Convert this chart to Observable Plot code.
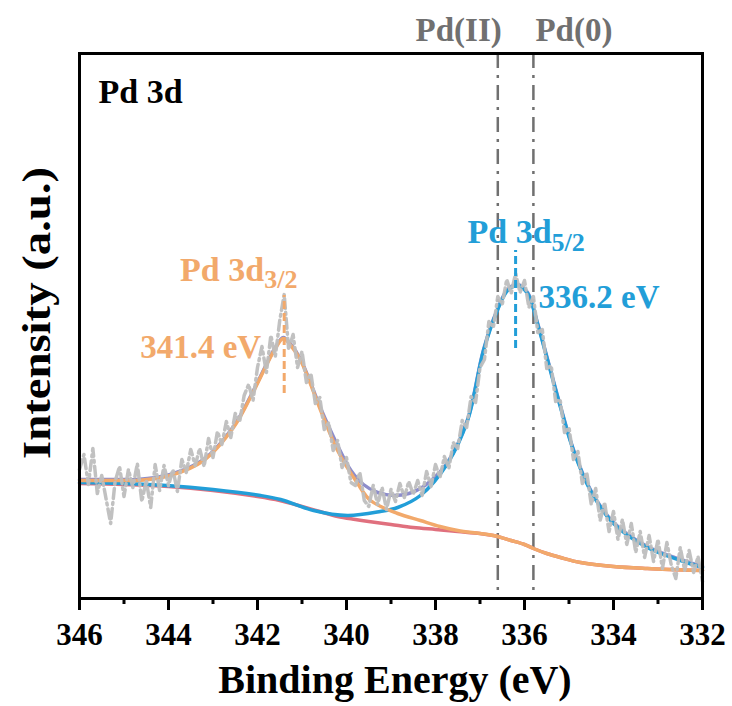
<!DOCTYPE html>
<html>
<head>
<meta charset="utf-8">
<script src="https://cdn.jsdelivr.net/npm/d3@7"></script>
<script src="https://cdn.jsdelivr.net/npm/@observablehq/plot@0.6"></script>
<style>
  html, body { margin: 0; padding: 0; background: #fff; }
</style>
</head>
<body>
<div id="chart"></div>
<script>
// ---------- data (binding energy in eV, intensity in a.u.) ----------
const majorTicks = [346, 344, 342, 340, 338, 336, 334, 332];
const minorTicks = [345, 343, 341, 339, 337, 335, 333];

// raw spectrum, 0.1 eV steps from 346.0 to 332.0 eV
const rawStart = 346.0, rawStep = 0.1;
const rawIntensity = [
  129,144,114,150,105,123,99,75,117,132,
  102,129,111,135,97,118,91,134,108,133,
  113,129,107,139,126,149,133,150,132,160,
  141,167,154,177,161,185,177,203,214,198,
  231,252,226,263,242,278,304,249,264,231,
  247,216,225,195,201,169,176,148,158,131,
  141,116,113,126,98,92,113,94,111,89,
  109,97,115,101,117,104,118,103,127,112,
  134,121,142,130,156,150,178,171,202,196,
  231,239,277,271,302,294,319,305,325,306,
  318,291,302,266,269,230,233,197,199,166,
  171,139,147,115,126,94,110,78,96,67,
  87,59,79,54,75,46,67,41,63,37,
  59,30,56,33,20,51,28,48,26,42,
  17
];
const raw = rawIntensity.map((v, i) => ({e: +(rawStart - i * rawStep).toFixed(1), v}));

const envelopeE = [346,345,344.7,343.96,343.21,342.54,342.16,341.78,341.6,341.42,341.25,341.03,340.58,340.2,339.9,339.62,339.3,338.94,338.6,338.34,338,337.73,337.28,336.92,336.61,336.38,336.16,335.93,335.71,335.48,335.19,334.9,334.52,334,333.24,332.49,332];
const envelopeV = [119,119,119,124,139,172,202,236,251,261,254,239,190,153,128,114,106,103,105,110,122,136,179,249,289,309,314,306,276,239,192,149,109,76,52,39,32];

const pd32E = [346,345,344.7,343.96,343.21,342.54,342.16,341.78,341.6,341.42,341.25,341.03,340.58,340.2,339.75,339.46,338.85,338.34,337.9,337.5,337,336.7,336.3,336,335.8,335.5,335.19,334.74,334,333.24,332];
const pd32V = [118,118,118,123,138,171,201,235,250,260,253,238,188,148,115,98,85,78,72,68,65,63,58,54,50,45,41,36,32,30,28];

const pd52E = [346,345,344.04,343,341.93,341.48,340.74,339.98,339.24,338.85,338.34,337.73,337.28,336.92,336.61,336.38,336.16,335.93,335.71,335.48,335.19,334.9,334.52,334,333.24,332.49,332];
const pd52V = [116,115,113,109,103,99,88,83,87,91,103,135,178,248,288,308,313,305,275,238,191,148,108,75,51,38,31];

const bgE = [346,345,344,343,342,341.5,341,340.6,340.2,339.8,339.5,339,338.5,338,337.5,337,336.7,336.3,336,335.8,335.5,335.19,334.74,334,333.24,332];
const bgV = [115,114,112,108,102,98,92,87,82,79,77,74,71,69,67,65,63,58,54,50,45,41,36,32,30,28];

const zip = (E, V) => E.map((e, i) => ({e, v: V[i]}));
const envelope = zip(envelopeE, envelopeV);
const pd32 = zip(pd32E, pd32V);
const pd52 = zip(pd52E, pd52V);
const background = zip(bgE, bgV);

const stateLines = [336.6, 335.8];          // Pd(II), Pd(0)
const stateLabels = ["Pd(II)", "Pd(0)"];
const peak32 = {e: 341.4, v1: 205, v2: 303, label: "341.4 eV", name: "Pd 3d", sub: "3/2"};
const peak52 = {e: 336.2, v1: 250, v2: 348, label: "336.2 eV", name: "Pd 3d", sub: "5/2"};

// ---------- styles ----------
const ORANGE = "#F2A96B";
const BLUE = "#229ED8";
const RED = "#E0707E";
const PURPLE = "#8D8DCB";
const GRAY = "#BEBEBE";
const DARKGRAY = "#707070";
const FONT = "'Liberation Serif', 'Times New Roman', serif";

const line = (data, stroke) => Plot.line(data, {
  x: "e", y: "v", stroke, strokeWidth: 3.5, curve: "catmull-rom"
});

const chart = Plot.plot({
  width: 732,
  height: 706,
  marginLeft: 79,
  marginRight: 30,
  marginTop: 53,
  marginBottom: 108,
  style: {fontFamily: FONT, fontWeight: "bold", background: "white", color: "black"},
  x: {domain: [346, 332], label: null},
  y: {domain: [0, 545], axis: null},
  marks: [
    Plot.ruleX(stateLines, {stroke: DARKGRAY, strokeWidth: 2.5, strokeDasharray: "15,7,3,7"}),
    line(envelope, PURPLE),
    line(background, RED),
    line(pd52, BLUE),
    line(pd32, ORANGE),
    Plot.line(raw, {x: "e", y: "v", stroke: GRAY, strokeWidth: 3.5, strokeDasharray: "10,4,2,4", opacity: 0.95}),
    Plot.ruleX([peak32], {x: "e", y1: "v1", y2: "v2", stroke: ORANGE, strokeWidth: 3, strokeDasharray: "8,4"}),
    Plot.ruleX([peak52], {x: "e", y1: "v1", y2: "v2", stroke: BLUE, strokeWidth: 3, strokeDasharray: "8,4"}),
    Plot.text([peak32], {x: "e", y: () => 318, text: "name", dx: -20, textAnchor: "end", lineAnchor: "bottom", fontSize: 34, fill: ORANGE}),
    Plot.text([peak32], {x: "e", y: () => 311, text: "sub", dx: -20, textAnchor: "start", lineAnchor: "bottom", fontSize: 26, fill: ORANGE}),
    Plot.text([peak32], {x: "e", y: () => 241, text: "label", dx: -23, textAnchor: "end", lineAnchor: "bottom", fontSize: 33, fill: ORANGE}),
    Plot.text([peak52], {x: "e", y: () => 356, text: "name", dx: 36, textAnchor: "end", lineAnchor: "bottom", fontSize: 34, fill: BLUE}),
    Plot.text([peak52], {x: "e", y: () => 348, text: "sub", dx: 36, textAnchor: "start", lineAnchor: "bottom", fontSize: 26, fill: BLUE}),
    Plot.text([peak52], {x: "e", y: () => 291, text: "label", dx: 23, textAnchor: "start", lineAnchor: "bottom", fontSize: 33, fill: BLUE}),
    Plot.text([0], {x: () => stateLines[0], text: () => stateLabels[0], frameAnchor: "top", dx: 4, dy: -13, textAnchor: "end", lineAnchor: "bottom", fontSize: 33, fill: DARKGRAY}),
    Plot.text([0], {x: () => stateLines[1], text: () => stateLabels[1], frameAnchor: "top", dx: 2, dy: -13, textAnchor: "start", lineAnchor: "bottom", fontSize: 33, fill: DARKGRAY}),
    Plot.text(["Pd 3d"], {frameAnchor: "top-left", dx: 19, dy: 49, textAnchor: "start", lineAnchor: "bottom", fontSize: 34, fill: "black"}),
    Plot.axisX(majorTicks, {tickSize: 12, strokeWidth: 3, tickPadding: 12, fontSize: 31, fontWeight: "bold", tickFormat: d => String(d), label: null, stroke: "black", fill: "black"}),
    Plot.axisX(minorTicks, {tickSize: 6, strokeWidth: 3, tickFormat: () => "", label: null, stroke: "black"}),
    Plot.text(["Binding Energy (eV)"], {frameAnchor: "bottom", dx: 4, dy: 94, textAnchor: "middle", lineAnchor: "bottom", fontSize: 40, fill: "black"}),
    Plot.text(["Intensity (a.u.)"], {frameAnchor: "left", dx: -42, dy: -13, rotate: -90, textAnchor: "middle", lineAnchor: "middle", fontSize: 40, fill: "black"}),
    Plot.frame({stroke: "black", strokeWidth: 3})
  ]
});
// stretch the y-axis title along its length to match the reference
d3.select(chart).selectAll("text").filter(function () { return this.textContent === "Intensity (a.u.)"; })
  .attr("textLength", 292).attr("lengthAdjust", "spacingAndGlyphs");
document.getElementById("chart").appendChild(chart);
</script>
</body>
</html>
